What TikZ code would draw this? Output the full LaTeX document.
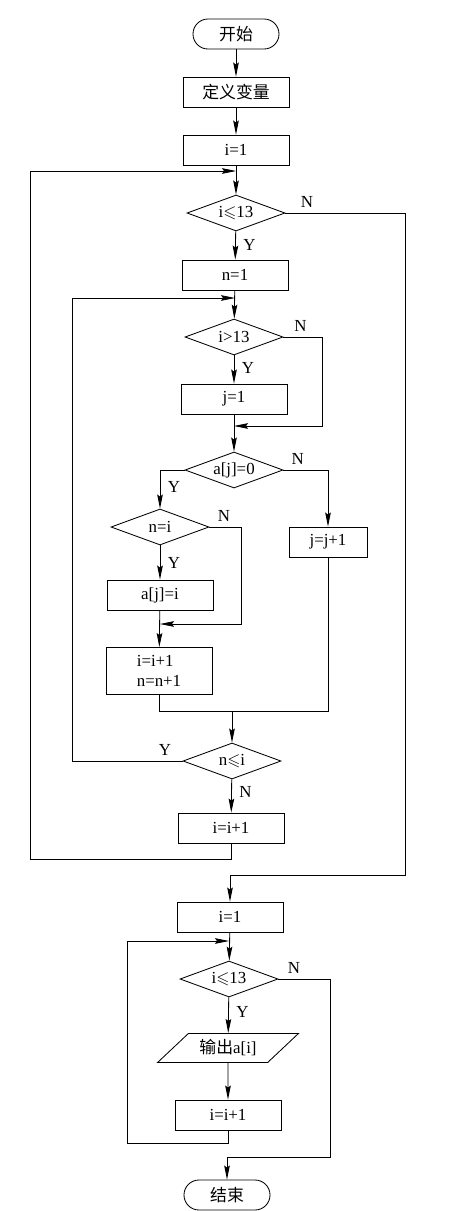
\documentclass[tikz,border=0pt]{standalone}
\usepackage{amssymb}
\usepackage{fontspec}
\setmainfont{Liberation Serif}
\newfontfamily\cjk{Noto Sans CJK SC}
\usetikzlibrary{shapes.geometric,arrows.meta}
\tikzset{
	box/.style={draw, rectangle, minimum width=2.65cm, minimum height=0.75cm, inner sep=2pt},
	term/.style={draw, rectangle, rounded corners=0.375cm, minimum width=2.15cm, minimum height=0.75cm},
	cond/.style={draw, diamond, aspect=2.7, inner sep=0pt, minimum width=2.45cm, minimum height=0.9cm},
	io/.style={draw, trapezium, trapezium left angle=45, trapezium right angle=135, trapezium stretches=true, minimum width=3.55cm, minimum height=0.725cm}
}

\begin{document}
\begin{tikzpicture}[>={Stealth[length=3.5mm,width=1.4mm,inset=0.5mm]}, x=0.025cm, y=-0.025cm, line width=0.6pt, font=\fontsize{12pt}{14pt}\selectfont]
		\useasboundingbox (0,0) rectangle (464,1211);
		\node[term] (St) at (236,34) {\cjk 开始};
		\node[box] (V) at (236,92) {\cjk 定义变量};
		\node[box] (I1) at (236,150) {i=1};
		\node[cond] (C1) at (236,213) {i$\leqslant$13};
		\node[box] (N1) at (235,275) {n=1};
		\node[cond] (C2) at (234,337) {i>13};
		\node[box] (J1) at (234,399) {j=1};
		\node[cond] (C3) at (234,470) {a[j]=0};
		\node[cond] (C4) at (160,527) {n=i};
		\node[box, minimum width=1.95cm] (J2) at (328,542) {j=j+1};
		\node[box] (A1) at (160,595) {a[j]=i};
		\node[box, minimum height=1.175cm, align=left] (I2) at (159,671) {i=i+1\\n=n+1};
		\node[cond] (C5) at (232,761) {n$\leqslant$i};
		\node[box] (I3) at (231,828) {i=i+1};
		\node[box] (I4) at (230,917) {i=1};
		\node[cond] (C6) at (229,979) {i$\leqslant$13};
		\node[io] (O1) at (228,1048) {{\cjk 输出}a[i]};
		\node[box] (I5) at (228,1115) {i=i+1};
		\node[term] (E) at (227,1195) {\cjk 结束};
		\coordinate (P1) at (236,171);
		\coordinate (P2) at (235,298);
		\coordinate (P3) at (234,426);
		\coordinate (P4) at (160,624);
		\coordinate (M1) at (232,711);
		\coordinate (P5) at (229,941);
		\coordinate (Q1) at (30,859);
		\coordinate (Q2) at (405,875);
		\coordinate (Q3) at (72,298);
		\coordinate (Q4) at (322,426);
		\coordinate (Q5) at (241,624);
		\coordinate (Q6) at (127,1143);
		\coordinate (Q7) at (330,1157);
		\draw[->] (St) -- (V);
		\draw[->] (V) -- (I1);
		\draw[->] (I1) -- (C1);
		\draw[->] (C1) -- node[right=2pt] (y1) {Y} (N1);
		\draw[->] (N1) -- (C2);
		\draw[->] (C2) -- node[right=2pt, pos=0.46] (y2) {Y} (J1);
		\draw[->] (J1) -- (C3);
		\draw[->] (C2) -| node[above, pos=0.22] (n2) {N} (Q4) -- (P3);
		\draw[->] (C3) -| node[right=2pt, pos=0.72] (y3) {Y} (C4);
		\draw[->] (C3) -| node[above, pos=0.16] (n3) {N} (J2);
		\draw[->] (C4) -- node[right=2pt] (y4) {Y} (A1);
		\draw[->] (C4) -| node[above, pos=0.23] (n4) {N} (Q5) -- (P4);
		\draw[->] (A1) -- (I2);
		\draw (I2) |- (M1) -| (J2);
		\draw[->] (M1) -- (C5);
		\draw[->] (C5) -| node[above, pos=0.08] (y5) {Y} (Q3) -- (P2);
		\draw[->] (C5) -- node[right=2pt, pos=0.38] (n5) {N} (I3);
		\draw[->] (I3) |- (Q1) |- (P1);
		\draw[->] (C1) -| node[above, pos=0.09] (n1) {N} (Q2) -| (I4);
		\draw[->] (I4) -- (C6);
		\draw[->] (C6) -- node[right=2pt, pos=0.4] (y6) {Y} (O1);
		\draw[->] (O1) -- (I5);
		\draw[->] (I5) |- (Q6) |- (P5);
		\draw[->] (C6) -| node[above, pos=0.15] (n6) {N} (Q7) -| (E);
	\end{tikzpicture}
\end{document}
